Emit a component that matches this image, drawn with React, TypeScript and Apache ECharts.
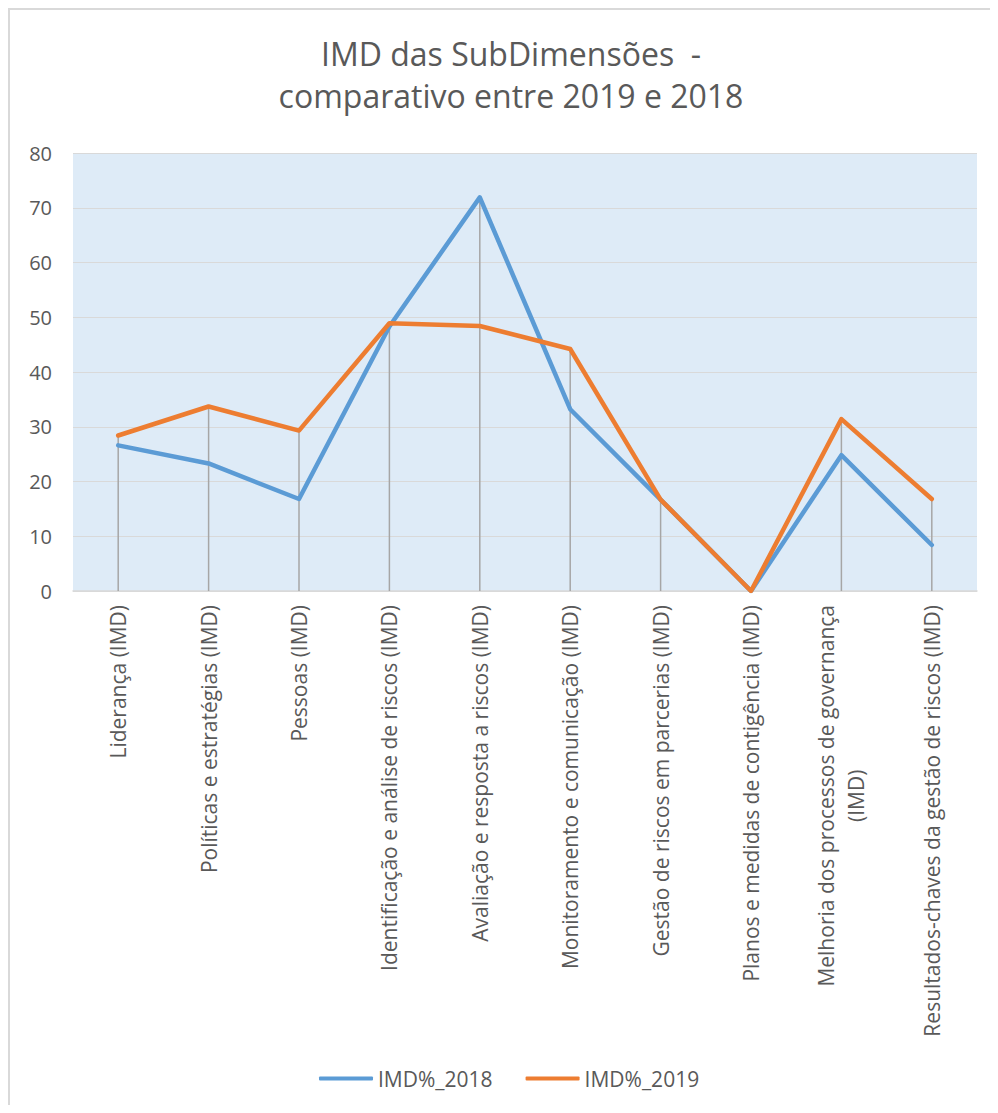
import React, { useEffect, useRef } from "react";
import * as echarts from "echarts";

const categories = [
  "Liderança (IMD)",
  "Políticas e estratégias (IMD)",
  "Pessoas (IMD)",
  "Identificação e análise de riscos (IMD)",
  "Avaliação e resposta a riscos (IMD)",
  "Monitoramento e comunicação (IMD)",
  "Gestão de riscos em parcerias (IMD)",
  "Planos e medidas de contigência (IMD)",
  "Melhoria dos processos de governança\n(IMD)",
  "Resultados-chaves da gestão de riscos (IMD)",
];

const imd2018 = [26.6, 23.3, 16.8, 48.3, 71.9, 33.2, 16.7, 0, 24.8, 8.4];
const imd2019 = [28.4, 33.7, 29.3, 48.9, 48.4, 44.2, 16.7, 0, 31.4, 16.8];

const yTicks = { min: 0, max: 80, interval: 10 };

const TEXT = "#595959";
const FONT = "'Open Sans', 'Noto Sans', sans-serif";

export default function App() {
  const ref = useRef<HTMLDivElement>(null);

  useEffect(() => {
    if (!ref.current) return;
    const chart = echarts.init(ref.current, undefined, { renderer: "svg" });
    const dropData = categories.map((_, i) => [i, Math.max(imd2018[i], imd2019[i])]);
    chart.setOption({
      animation: false,
      textStyle: { fontFamily: FONT },
      title: {
        text: "IMD das SubDimensões  -\ncomparativo entre 2019 e 2018",
        left: 496,
        top: 17,
        textAlign: "center",
        textStyle: {
          fontFamily: FONT,
          fontSize: 32,
          fontWeight: "normal",
          color: TEXT,
          lineHeight: 42,
        },
      },
      legend: {
        data: ["IMD%_2018", "IMD%_2019"],
        left: 304,
        top: 1053,
        icon: "roundRect",
        itemWidth: 54,
        itemHeight: 4,
        itemGap: 33,
        textStyle: { fontFamily: FONT, fontSize: 21, color: TEXT, padding: [0, 0, 0, 0] },
      },
      grid: {
        left: 63,
        right: 15,
        top: 143,
        bottom: 516,
        show: true,
        backgroundColor: "#DEEBF7",
        borderWidth: 0,
      },
      xAxis: {
        type: "category",
        data: categories,
        boundaryGap: true,
        axisLine: { show: true, lineStyle: { color: "#d9d9d9", width: 1.5 } },
        axisTick: { show: false },
        axisLabel: {
          interval: 0,
          rotate: 90,
          margin: 14,
          color: TEXT,
          fontFamily: FONT,
          fontSize: 21,
          formatter: (v: string) =>
            v
              .split("\n")
              .map((s) => "{a|" + s + "}")
              .join("\n"),
          rich: {
            a: { fontFamily: FONT, fontSize: 21, color: TEXT, align: "center", lineHeight: 30 },
          },
        },
        splitLine: { show: false },
      },
      yAxis: {
        type: "value",
        min: yTicks.min,
        max: yTicks.max,
        interval: yTicks.interval,
        axisLine: { show: false },
        axisTick: { show: false },
        axisLabel: { color: TEXT, fontFamily: FONT, fontSize: 20, margin: 21 },
        splitLine: { show: true, lineStyle: { color: "#d9d9d9", width: 1 } },
      },
      series: [
        {
          type: "custom",
          name: "drop",
          z: 1,
          silent: true,
          data: dropData,
          renderItem: (_params: any, api: any) => {
            const i = api.value(0);
            const top = api.coord([i, api.value(1)]);
            const bottom = api.coord([i, 0]);
            return {
              type: "line",
              shape: { x1: top[0], y1: top[1], x2: bottom[0], y2: bottom[1] },
              style: { stroke: "#a6a6a6", lineWidth: 1.5 },
            };
          },
        },
        {
          type: "line",
          name: "IMD%_2018",
          data: imd2018,
          symbol: "none",
          z: 3,
          itemStyle: { color: "#5B9BD5" },
          lineStyle: { color: "#5B9BD5", width: 4.5, cap: "round", join: "round" },
        },
        {
          type: "line",
          name: "IMD%_2019",
          data: imd2019,
          symbol: "none",
          z: 4,
          itemStyle: { color: "#ED7D31" },
          lineStyle: { color: "#ED7D31", width: 4.5, cap: "round", join: "round" },
        },
      ],
    });
    return () => chart.dispose();
  }, []);

  return (
    <div
      style={{
        width: 980,
        height: 1095,
        borderTop: "2px solid #d9d9d9",
        borderLeft: "2px solid #d9d9d9",
        overflow: "hidden",
        background: "#fff",
      }}
    >
      <div ref={ref} style={{ width: 982, height: 1097 }} />
    </div>
  );
}
